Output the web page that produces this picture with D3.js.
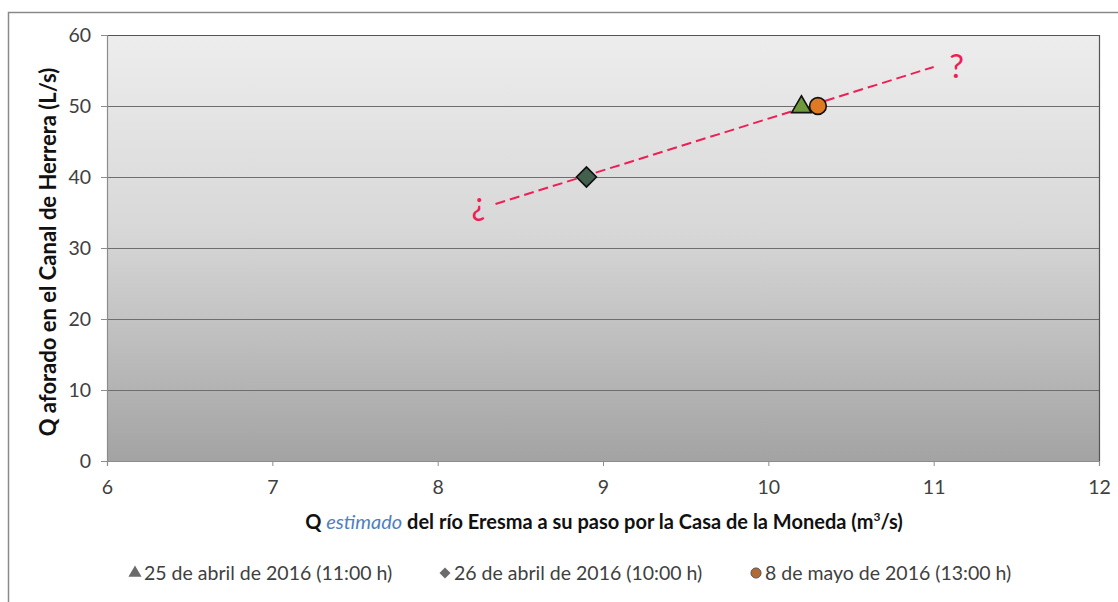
<!DOCTYPE html>
<html>
<head>
<meta charset="utf-8">
<script src="https://cdn.jsdelivr.net/npm/d3@7"></script>
<style>
  html, body { margin: 0; padding: 0; background: #ffffff; }
  svg { display: block; }
</style>
</head>
<body>
<svg id="chart" width="1118" height="602"></svg>
<script>
// Measured flows: x = estimated river flow (m³/s), y = canal flow (L/s)
const seriesNames = ["25 de abril de 2016 (11:00 h)", "26 de abril de 2016 (10:00 h)", "8 de mayo de 2016 (13:00 h)"];
const seriesX = [10.2, 8.9, 10.3];
const seriesY = [50, 40, 50];
const seriesSymbols = ["triangle", "diamond", "circle"];

// Dashed trend segment between its two ends
const trendX = [8.35, 11.0];
const trendY = [36.2, 55.5];

const xTicks = [6, 7, 8, 9, 10, 11, 12];
const yTicks = [0, 10, 20, 30, 40, 50, 60];

const W = 1118, H = 602;
const plot = { left: 107, right: 1099, top: 35, bottom: 461 };
const font = "Lato, 'Open Sans', 'Noto Sans', sans-serif";

const svg = d3.select("#chart");

const x = d3.scaleLinear().domain([6, 12]).range([plot.left, plot.right]);
const y = d3.scaleLinear().domain([0, 60]).range([plot.bottom, plot.top]);

const defs = svg.append("defs");
const grad = defs.append("linearGradient")
  .attr("id", "plotBg").attr("x1", 0).attr("y1", 0).attr("x2", 0).attr("y2", 1);
grad.append("stop").attr("offset", "0%").attr("stop-color", "#ededed");
grad.append("stop").attr("offset", "45%").attr("stop-color", "#d8d8d8");
grad.append("stop").attr("offset", "100%").attr("stop-color", "#a3a3a3");

// Outer chart frame
svg.append("rect")
  .attr("x", 8.5).attr("y", 12.5).attr("width", W + 20).attr("height", H + 20)
  .attr("fill", "#ffffff").attr("stroke", "#8a8a8a").attr("stroke-width", 1.5);

// Plot area
svg.append("rect")
  .attr("x", plot.left).attr("y", plot.top)
  .attr("width", plot.right - plot.left).attr("height", plot.bottom - plot.top)
  .attr("fill", "url(#plotBg)");

// Horizontal gridlines
svg.append("g").selectAll("line")
  .data(yTicks.filter(d => d > 0))
  .join("line")
  .attr("x1", plot.left).attr("x2", plot.right)
  .attr("y1", d => y(d) + 0.5).attr("y2", d => y(d) + 0.5)
  .attr("stroke", "#6e6e6e").attr("stroke-width", 1);

// Plot frame (right and top)
svg.append("path")
  .attr("d", `M${plot.left},${plot.top + 0.5}H${plot.right + 0.5}V${plot.bottom}`)
  .attr("fill", "none").attr("stroke", "#555555").attr("stroke-width", 1.2);

// Axes
const yAxis = d3.axisLeft(y).tickValues(yTicks).tickSize(6).tickPadding(10);
const gy = svg.append("g").attr("transform", `translate(${plot.left},0)`).call(yAxis);
const xAxis = d3.axisBottom(x).tickValues(xTicks).tickFormat(d3.format("d")).tickSize(5).tickPadding(14);
const gx = svg.append("g").attr("transform", `translate(0,${plot.bottom})`).call(xAxis);

[gy, gx].forEach(g => {
  g.select(".domain").attr("stroke", "#8c8c8c").attr("stroke-width", 1.2);
  g.selectAll(".tick line").attr("stroke", "#8c8c8c");
  g.selectAll(".tick text")
    .attr("font-family", font).attr("font-size", 19.5).attr("fill", "#404040");
});

// Axis titles
svg.append("text")
  .attr("transform", `translate(56,${(plot.top + plot.bottom) / 2 + 4}) rotate(-90)`)
  .attr("text-anchor", "middle")
  .attr("font-family", font).attr("font-size", 22).attr("font-weight", "bold")
  .attr("fill", "#111111")
  .text("Q aforado en el Canal de Herrera (L/s)");

const xt = svg.append("text")
  .attr("x", (plot.left + plot.right) / 2 + 1).attr("y", 529)
  .attr("text-anchor", "middle")
  .attr("font-family", font).attr("font-size", 20).attr("font-weight", "bold")
  .attr("fill", "#111111");
xt.append("tspan").text("Q ");
xt.append("tspan").attr("font-style", "italic").attr("font-weight", "normal")
  .attr("fill", "#4f7fbf").text("estimado");
xt.append("tspan").text(" del río Eresma a su paso por la Casa de la Moneda (m");
xt.append("tspan").attr("font-size", 12).attr("dy", -8).text("3");
xt.append("tspan").attr("dy", 8).text("/s)");

// Trend segment
svg.append("line")
  .attr("x1", x(trendX[0])).attr("y1", y(trendY[0]))
  .attr("x2", x(trendX[1])).attr("y2", y(trendY[1]))
  .attr("stroke", "#ee1f55").attr("stroke-width", 2)
  .attr("stroke-dasharray", "10,5");

// Question marks at the ends of the segment
svg.append("text")
  .attr("x", x(trendX[0]) - 17).attr("y", y(trendY[0]) + 11)
  .attr("text-anchor", "middle")
  .attr("font-family", font).attr("font-size", 32).attr("fill", "#ee1f55")
  .text("¿");
svg.append("text")
  .attr("x", x(trendX[1]) + 23).attr("y", y(trendY[1]) + 11)
  .attr("text-anchor", "middle")
  .attr("font-family", font).attr("font-size", 33).attr("fill", "#ee1f55")
  .text("?");

// Marker styles per series
const fills = ["#6f9a3c", "#43604f", "#e07a22"];
const symbolTypes = { triangle: d3.symbolTriangle, diamond: d3.symbolSquare, circle: d3.symbolCircle };
const sizes = { triangle: 165, diamond: 200, circle: 220 };

const points = seriesX.map((v, i) => ({ x: v, y: seriesY[i], sym: seriesSymbols[i], fill: fills[i] }));
svg.append("g").selectAll("path")
  .data(points)
  .join("path")
  .attr("transform", d => `translate(${x(d.x)},${y(d.y) + (d.sym === "triangle" ? 1 : 0)})` + (d.sym === "diamond" ? " rotate(45)" : ""))
  .attr("d", d => d3.symbol(symbolTypes[d.sym], sizes[d.sym])())
  .attr("fill", d => d.fill)
  .attr("stroke", "#111111").attr("stroke-width", 1.6);

// Legend
const legendFills = ["#6b6b6b", "#6b6b6b", "#b06a35"];
const legendX = [135, 445, 756];
const legendSizes = [75, 60, 80];
const legend = svg.append("g");
seriesNames.forEach((name, i) => {
  legend.append("path")
    .attr("transform", `translate(${legendX[i]},${573})` + (seriesSymbols[i] === "diamond" ? " rotate(45)" : ""))
    .attr("d", d3.symbol(symbolTypes[seriesSymbols[i]], legendSizes[i])())
    .attr("fill", legendFills[i])
    .attr("stroke", seriesSymbols[i] === "circle" ? "#555" : "none");
  legend.append("text")
    .attr("x", legendX[i] + 9).attr("y", 580)
    .attr("font-family", font).attr("font-size", 19.5).attr("fill", "#404040")
    .text(name);
});
</script>
</body>
</html>
